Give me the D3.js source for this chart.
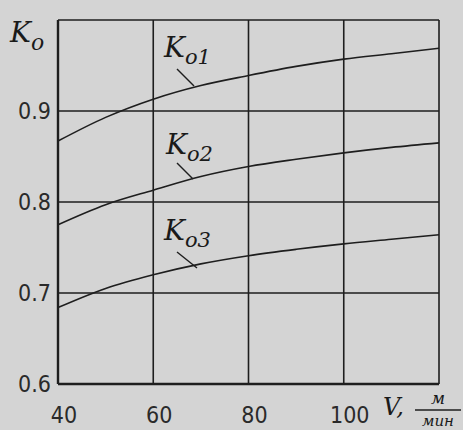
<!DOCTYPE html>
<html>
<head>
<meta charset="utf-8">
<script src="https://cdn.jsdelivr.net/npm/d3@7"></script>
<style>
  body { margin: 0; background: #d4d4d4; }
  .tick-label { font-family: "Liberation Sans Narrow", "DejaVu Sans Condensed", sans-serif; font-size: 23px; fill: #2a2a2a; }
  .k-label { font-family: "DejaVu Serif", "Liberation Serif", serif; font-style: italic; fill: #1a1a1a; }
</style>
</head>
<body>
<svg id="chart" width="463" height="430"></svg>
<script>
// speed V, m/min
const speeds = [40, 50, 60, 70, 80, 90, 100, 110, 120];
const ko1 = [0.867, 0.893, 0.913, 0.928, 0.939, 0.949, 0.957, 0.963, 0.969];
const ko2 = [0.775, 0.797, 0.813, 0.828, 0.839, 0.847, 0.854, 0.860, 0.865];
const ko3 = [0.684, 0.705, 0.720, 0.732, 0.741, 0.748, 0.754, 0.759, 0.764];
const xTicks = [40, 60, 80, 100];
const yTicks = [0.6, 0.7, 0.8, 0.9];
const seriesNames = ["1", "2", "3"];

const svg = d3.select("#chart");
const x = d3.scaleLinear().domain([40, 120]).range([58, 439]);
const y = d3.scaleLinear().domain([0.6, 1.0]).range([384, 20]);

const ink = "#1e1e1e";

// grid
svg.append("g").selectAll("line.v")
  .data([60, 80, 100, 120])
  .enter().append("line")
  .attr("x1", d => x(d)).attr("x2", d => x(d))
  .attr("y1", y(1.0)).attr("y2", y(0.6))
  .attr("stroke", ink).attr("stroke-width", 1.6);
svg.append("g").selectAll("line.h")
  .data([0.7, 0.8, 0.9, 1.0])
  .enter().append("line")
  .attr("x1", x(40)).attr("x2", x(120))
  .attr("y1", d => y(d)).attr("y2", d => y(d))
  .attr("stroke", ink).attr("stroke-width", 1.6);

// axes frame (left, bottom)
svg.append("line")
  .attr("x1", x(40)).attr("x2", x(40))
  .attr("y1", y(1.0)).attr("y2", y(0.6))
  .attr("stroke", ink).attr("stroke-width", 2.4);
svg.append("line")
  .attr("x1", x(40)).attr("x2", x(120))
  .attr("y1", y(0.6)).attr("y2", y(0.6))
  .attr("stroke", ink).attr("stroke-width", 2.4);

// curves
const line = d3.line()
  .x((d, i) => x(speeds[i]))
  .y(d => y(d))
  .curve(d3.curveMonotoneX);
[ko1, ko2, ko3].forEach(s => {
  svg.append("path")
    .attr("d", line(s))
    .attr("fill", "none")
    .attr("stroke", ink)
    .attr("stroke-width", 1.6);
});

// tick labels
svg.append("g").selectAll("text")
  .data(yTicks)
  .enter().append("text")
  .attr("class", "tick-label")
  .attr("x", 51)
  .attr("y", d => y(d) + 8)
  .attr("text-anchor", "end")
  .text(d => d.toFixed(1));
svg.append("g").selectAll("text")
  .data(xTicks)
  .enter().append("text")
  .attr("class", "tick-label")
  .attr("x", d => x(d) + 6)
  .attr("y", 423)
  .attr("text-anchor", "middle")
  .text(d => d);

// axis title V, м/мин
svg.append("text").attr("class", "k-label")
  .attr("x", 383).attr("y", 415).attr("font-size", 24)
  .text("V,");
svg.append("text").attr("class", "k-label")
  .attr("x", 438).attr("y", 404).attr("font-size", 17)
  .attr("text-anchor", "middle")
  .text("м");
svg.append("line")
  .attr("x1", 415).attr("x2", 461)
  .attr("y1", 410).attr("y2", 410)
  .attr("stroke", ink).attr("stroke-width", 1.4);
svg.append("text").attr("class", "k-label")
  .attr("x", 438).attr("y", 426).attr("font-size", 15)
  .attr("text-anchor", "middle")
  .text("мин");

// Ko axis label
const ko = svg.append("text").attr("class", "k-label").attr("x", 10).attr("y", 42);
ko.append("tspan").attr("font-size", 28).text("K");
ko.append("tspan").attr("font-size", 22).attr("dy", 8).text("o");

// curve labels with leader lines
const labelPos = [
  { lx: 164, ly: 57, x1: 177, y1: 69, x2: 194, y2: 86 },
  { lx: 166, ly: 154, x1: 177, y1: 163, x2: 193, y2: 179 },
  { lx: 164, ly: 240, x1: 177, y1: 252, x2: 197, y2: 268 }
];
seriesNames.forEach((n, i) => {
  const p = labelPos[i];
  const t = svg.append("text").attr("class", "k-label").attr("x", p.lx).attr("y", p.ly);
  t.append("tspan").attr("font-size", 28).text("K");
  t.append("tspan").attr("font-size", 21).attr("dy", 7).text("o" + n);
  svg.append("line")
    .attr("x1", p.x1).attr("y1", p.y1).attr("x2", p.x2).attr("y2", p.y2)
    .attr("stroke", ink).attr("stroke-width", 1.4);
});
</script>
</body>
</html>
